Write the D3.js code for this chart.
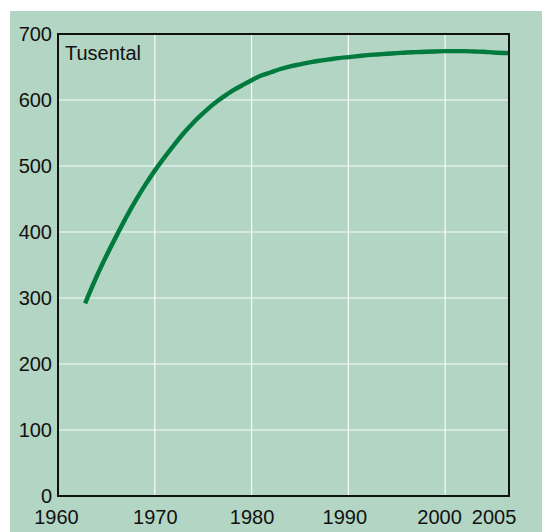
<!DOCTYPE html>
<html>
<head>
<meta charset="utf-8">
<script src="https://cdn.jsdelivr.net/npm/d3@7"></script>
<style>
  html, body { margin: 0; padding: 0; background: #ffffff; }
  svg { display: block; }
  text { font-family: "Liberation Sans", Arial, Helvetica, sans-serif; fill: #111; }
</style>
</head>
<body>
<script>
// ---- data ----
const years = [1962.8, 1964, 1965, 1966, 1967, 1968, 1969, 1970, 1971, 1972, 1973, 1974, 1975, 1976,
  1977, 1978, 1979, 1980, 1981, 1982, 1983, 1984, 1985, 1986, 1987, 1988, 1989, 1990, 1991, 1992,
  1993, 1994, 1995, 1996, 1997, 1998, 1999, 2000, 2001, 2002, 2003, 2004, 2005, 2006.6];
const values = [292, 333, 364, 393, 421, 447, 471, 493, 513, 532, 550, 566, 580, 593,
  604, 614, 622, 630, 637, 642, 647, 651, 654, 657, 659.5, 661.5, 663.5, 665, 666.5, 668,
  669, 670, 671, 672, 672.5, 673, 673.5, 674, 674, 674, 673.5, 673, 672, 671];
const xTickValues = [1960, 1970, 1980, 1990, 2000, 2005];
const xTickLabels = ["1960", "1970", "1980", "1990", "2000", "2005"];
const yTickValues = [0, 100, 200, 300, 400, 500, 600, 700];
const yTickLabels = ["0", "100", "200", "300", "400", "500", "600", "700"];
const xGridValues = [1970, 1980, 1990, 2000];
const yGridValues = [100, 200, 300, 400, 500, 600];
const unitLabel = "Tusental";

(function () {
// ---- layout ----
const W = 542, H = 532;
const mLeft = 58, mRight = 509, mTop = 34, mBottom = 496;

const svg = d3.select("body").append("svg").attr("width", W).attr("height", H);

svg.append("rect").attr("x", 10).attr("y", 11).attr("width", W - 10).attr("height", H - 11)
  .attr("fill", "#b3d5c3");

const x = d3.scaleLinear().domain([1960, 2006.6]).range([mLeft, mRight]);
const y = d3.scaleLinear().domain([0, 700]).range([mBottom, mTop]);

// grid
svg.append("g").selectAll("line").data(xGridValues).join("line")
  .attr("x1", d => x(d)).attr("x2", d => x(d)).attr("y1", mTop).attr("y2", mBottom)
  .attr("stroke", "#ffffff").attr("stroke-opacity", 0.9).attr("stroke-width", 1.2);
svg.append("g").selectAll("line").data(yGridValues).join("line")
  .attr("x1", mLeft).attr("x2", mRight).attr("y1", d => y(d)).attr("y2", d => y(d))
  .attr("stroke", "#ffffff").attr("stroke-opacity", 0.9).attr("stroke-width", 1.2);

// line
const pts = years.map((yr, i) => [yr, values[i]]);
const line = d3.line().x(d => x(d[0])).y(d => y(d[1])).curve(d3.curveMonotoneX);
svg.append("path").datum(pts).attr("d", line)
  .attr("fill", "none").attr("stroke", "#007a3d").attr("stroke-width", 4.4)
  .attr("stroke-linecap", "butt").attr("stroke-linejoin", "round");

// frame
svg.append("rect").attr("x", mLeft).attr("y", mTop).attr("width", mRight - mLeft).attr("height", mBottom - mTop)
  .attr("fill", "none").attr("stroke", "#111").attr("stroke-width", 2);

// y axis labels
const yAxis = d3.axisLeft(y).tickValues(yTickValues).tickSize(0).tickPadding(6)
  .tickFormat((d, i) => yTickLabels[i]);
const gy = svg.append("g").attr("transform", `translate(${mLeft},0)`).call(yAxis);
gy.select(".domain").remove();
gy.selectAll("text").style("font-size", "20px").attr("fill", "#111")
  .style("font-family", "'Liberation Sans', Arial, sans-serif");

// x axis labels
const xAxis = d3.axisBottom(x).tickValues(xTickValues).tickSize(0).tickPadding(14)
  .tickFormat((d, i) => xTickLabels[i]);
const gx = svg.append("g").attr("transform", `translate(0,${mBottom})`).call(xAxis);
gx.select(".domain").remove();
gx.selectAll("text").style("font-size", "20px").attr("fill", "#111")
  .style("font-family", "'Liberation Sans', Arial, sans-serif")
  .attr("dx", d => d === 2000 ? -6 : (d === 1990 ? -4 : (d === 1960 ? -2 : 0)));

// unit label
svg.append("text").attr("x", 65).attr("y", 60).style("font-size", "20px").text(unitLabel);
})();
</script>
</body>
</html>
